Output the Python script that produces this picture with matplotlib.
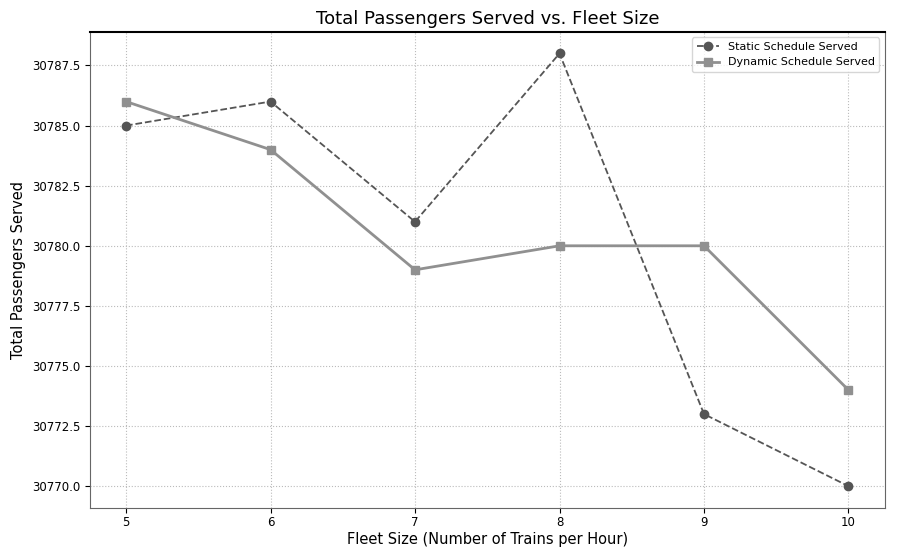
import matplotlib
matplotlib.use("Agg")
from matplotlib import pyplot as plt

fleet_sizes = [5, 6, 7, 8, 9, 10]
static_served = [30785, 30786, 30781, 30788, 30773, 30770]
dynamic_served = [30786, 30784, 30779, 30780, 30780, 30774]


def main():
    fig, ax = plt.subplots(figsize=(8.99, 5.49), dpi=100)

    # static schedule: dashed line with round markers
    ax.plot(fleet_sizes, static_served, linestyle="--", marker="o",
            color="#555555", linewidth=1.3, markersize=6,
            label="Static Schedule Served")
    # dynamic schedule: solid line with square markers
    ax.plot(fleet_sizes, dynamic_served, linestyle="-", marker="s",
            color="#909090", linewidth=2, markersize=6,
            label="Dynamic Schedule Served")

    ax.set_title("Total Passengers Served vs. Fleet Size", fontsize=13)
    ax.set_xlabel("Fleet Size (Number of Trains per Hour)", fontsize=10.5,
                  labelpad=2)
    ax.set_ylabel("Total Passengers Served", fontsize=10.5)
    ax.set_xticks(fleet_sizes)
    ax.tick_params(labelsize=8.5)
    ax.tick_params(axis="x", pad=2.5)
    ax.grid(True, linestyle=":", color="#bbbbbb", linewidth=0.8)
    ax.spines["top"].set_linewidth(1.5)
    for side in ("left", "right", "bottom"):
        ax.spines[side].set_color("#666666")
    ax.legend(loc="upper right", fontsize=8)

    plt.subplots_adjust(left=0.1, right=0.984, top=0.942, bottom=0.075)
    plt.savefig("out.png")


if __name__ == "__main__":
    main()
